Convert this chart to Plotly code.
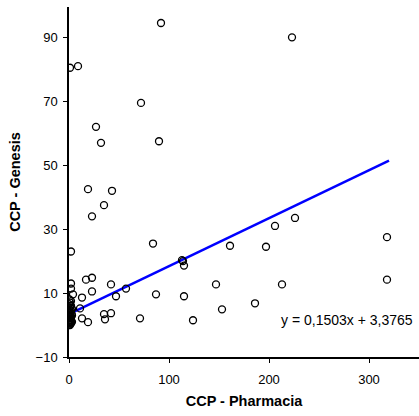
import plotly.graph_objects as go

# Scatter data: CCP - Pharmacia (x) vs CCP - Genesis (y)
pharmacia = [92, 223, 1, 9, 72, 27, 32, 90, 19, 43, 35, 23, 2, 84, 161, 197, 206, 226,
             318, 318, 113, 114, 115, 87, 115, 147, 213, 153, 186, 71, 124,
             2, 2, 4, 13, 17, 23, 23, 42, 47, 57, 11, 13, 19, 35, 36, 42,
             0, 0, 0, 0, 0, 0, 0, 0, 0.5, 0.5, 1, 1, 1, 1, 1.5, 1.5, 2, 2, 2, 2,
             2.5, 3, 3, 0, 1, 2, 0.5, 1.5, 2, 3]
genesis = [94.5, 90, 80.5, 81, 69.5, 62, 57, 57.5, 42.5, 42, 37.5, 34, 23, 25.5, 24.8, 24.5, 31, 33.5,
           27.5, 14.2, 20.3, 20, 18.6, 9.6, 9, 12.7, 12.7, 4.9, 6.8, 2.1, 1.5,
           13, 11.4, 9.6, 8.6, 14.2, 14.8, 10.5, 12.7, 9, 11.4, 5.2, 2.1, 0.9, 3.4, 1.8, 3.7,
           0, 0.5, 1, 1.5, 2, 3, 4, 5, 0.2, 2.5, 0, 1, 3, 5.5, 0.8, 4, 1.5, 2.5, 6, 7.5,
           3.5, 1, 5, 6.5, 7, 4.5, 8, 6, 0.5, 3]

# Trend line from the printed equation
slope = 0.1503
intercept = 3.3765
trend_x = [0, 320]
trend_y = [intercept + slope * v for v in trend_x]
equation_text = "y = 0,1503x + 3,3765"

x_ticks = [0, 100, 200, 300]
y_ticks = [-10, 10, 30, 50, 70, 90]

fig = go.Figure()
fig.add_trace(go.Scatter(
    x=trend_x, y=trend_y, mode="lines",
    line=dict(color="#0000FF", width=2.5), showlegend=False, hoverinfo="skip"))
fig.add_trace(go.Scatter(
    x=pharmacia, y=genesis, mode="markers",
    marker=dict(symbol="circle-open", size=7, color="black", line=dict(width=1.3)),
    showlegend=False))

fig.add_annotation(x=346, y=1.6, xref="x", yref="y", text=equation_text,
                   showarrow=False, xanchor="right", yanchor="middle",
                   font=dict(family="Arial, Liberation Sans", size=14, color="black"))

axis_font = dict(family="Arial, Liberation Sans", size=13, color="black")
title_font = dict(family="Arial, Liberation Sans", size=14.5, color="black", weight="bold")

fig.update_layout(
    width=419, height=416,
    margin=dict(l=69, r=0, t=7, b=59, autoexpand=False),
    paper_bgcolor="white", plot_bgcolor="white",
    font=axis_font,
    xaxis=dict(range=[0, 350], tickvals=x_ticks, showgrid=False, zeroline=False,
               showline=True, linecolor="black", linewidth=1.5, automargin=False,
               ticks="outside", ticklen=4, tickcolor="black",
               tickfont=axis_font, ticklabelstandoff=6,
               title=dict(text="CCP - Pharmacia", font=title_font, standoff=10)),
    yaxis=dict(range=[-10, 99.5], tickvals=y_ticks, showgrid=False, zeroline=False,
               showline=True, linecolor="black", linewidth=1.5, automargin=False,
               ticks="outside", ticklen=4, tickcolor="black",
               tickfont=axis_font, ticklabelstandoff=3,
               title=dict(text="CCP - Genesis", font=title_font, standoff=12)),
)

fig.write_html("out.html", config={"displayModeBar": False},
               post_script="document.body.style.margin='0';document.body.style.overflow='hidden';")
